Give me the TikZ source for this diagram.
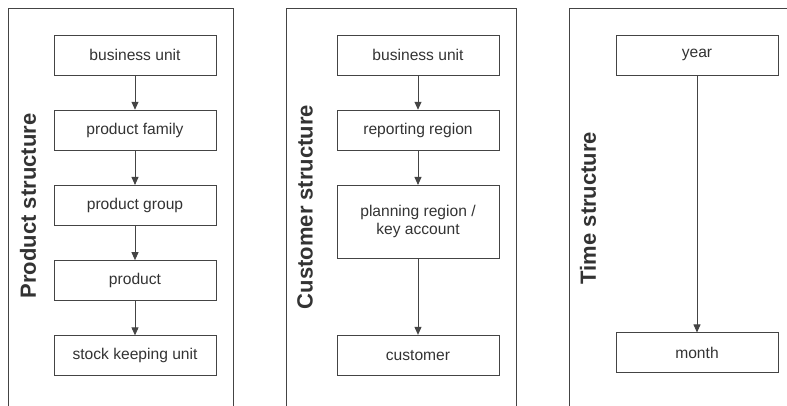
\documentclass[tikz,border=0pt]{standalone}
\usepackage{fontspec}
\setmainfont{Liberation Sans}
\usepackage{xcolor}
\usetikzlibrary{arrows.meta, positioning}
\definecolor{linegray}{HTML}{444444}
\definecolor{textgray}{HTML}{333333}

\begin{document}
\begin{tikzpicture}[
    x=1pt, y=-1pt,
    level/.style={draw=linegray, line width=0.9pt, minimum width=162pt,
                  minimum height=40pt, align=center, text=textgray,
                  font=\fontsize{15.6}{18}\selectfont},
    title/.style={rotate=90, text=textgray, font=\fontsize{22}{24}\selectfont\bfseries},
    panel/.style={draw=linegray, line width=0.9pt},
    arrow/.style={-{Triangle[length=8pt, width=7pt]}, draw=linegray, line width=0.9pt},
    node distance=34.3pt
]
\clip (0,0) rectangle (787,405);

% panels, open at the bottom
\draw[panel] (8,8) rectangle (233,415);
\draw[panel] (286,8) rectangle (516,415);
\draw[panel] (569,8) rectangle (800,415);

\node[title] (tp) at (28,206) {Product structure};
\node[title] (tc) at (305,207) {Customer structure};
\node[title] (tt) at (588,208) {Time structure};

% product structure
\node[level] (p1) at (135,55) {business unit};
\node[level, below=of p1] (p2) {product family};
\node[level, below=of p2] (p3) {product group};
\node[level, below=of p3] (p4) {product};
\node[level, below=of p4] (p5) {stock keeping unit};

% customer structure
\node[level] (c1) at (418,55) {business unit};
\node[level, below=of c1] (c2) {reporting region};
\node[level, below=of c2, minimum height=73pt] (c3) {planning region /\\key account};
\node[level, below=76pt of c3] (c4) {customer};

% time structure
\node[level] (y1) at (697,55) {year};
\node[level, below=257pt of y1] (y2) {month};

\draw[arrow] (p1) -- (p2);
\draw[arrow] (p2) -- (p3);
\draw[arrow] (p3) -- (p4);
\draw[arrow] (p4) -- (p5);
\draw[arrow] (c1) -- (c2);
\draw[arrow] (c2) -- (c3);
\draw[arrow] (c3) -- (c4);
\draw[arrow] (y1) -- (y2);
\end{tikzpicture}
\end{document}
